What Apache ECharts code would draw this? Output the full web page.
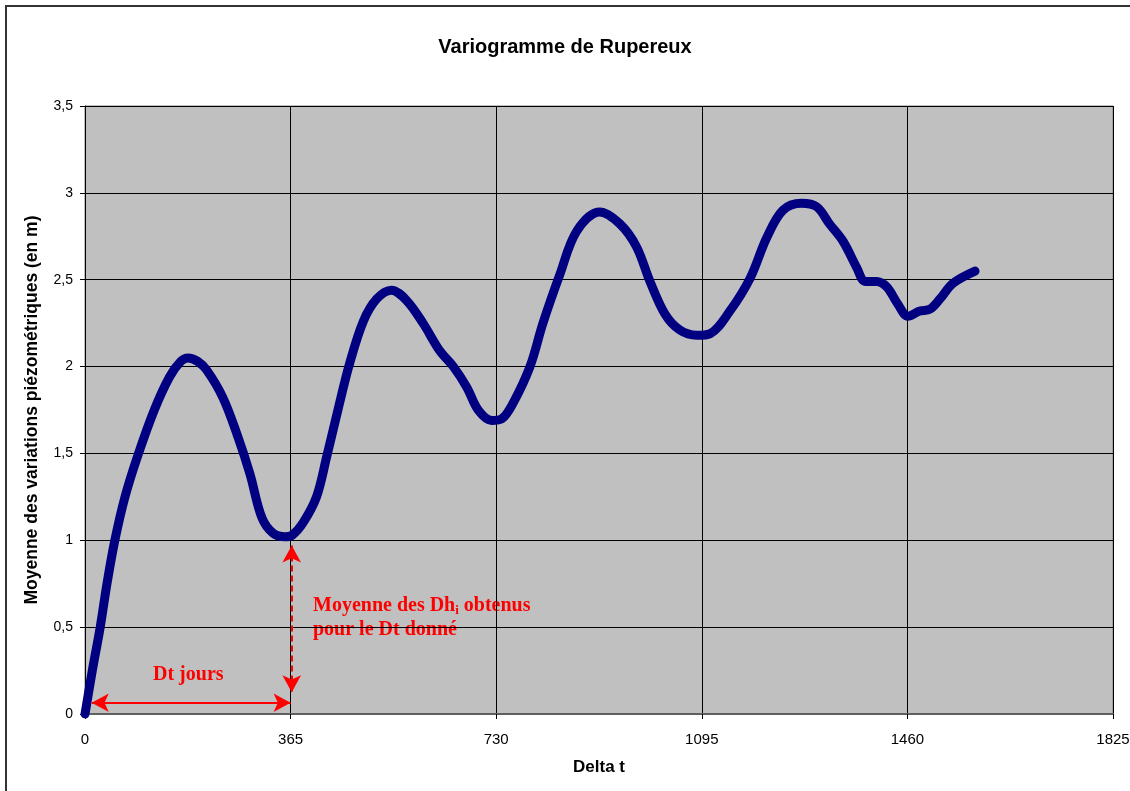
<!DOCTYPE html>
<html>
<head>
<meta charset="utf-8">
<script src="https://cdn.jsdelivr.net/npm/echarts@6/dist/echarts.min.js"></script>
<style>html,body{margin:0;padding:0;background:#fff}#c{width:1130px;height:791px}</style>
</head>
<body>
<div id="c"></div>
<script>
// Delta t (days)
const deltaT = [0,13,27,39,53,71,94,123,150,170,183,200,216,245,272,293,314,334,355,368,387,411,429,449,470,494,518,544,571,600,630,654,678,698,722,740,760,790,813,843,873,914,950,979,1003,1030,1056,1086,1110,1145,1181,1210,1239,1272,1299,1322,1346,1370,1385,1405,1423,1443,1461,1482,1500,1518,1541,1580];
// Moyenne des variations piézométriques (m)
const moyenne = [0,0.25,0.5,0.75,1.0,1.25,1.49,1.75,1.94,2.03,2.05,2.03,1.98,1.82,1.59,1.38,1.13,1.04,1.02,1.03,1.10,1.25,1.48,1.75,2.02,2.26,2.39,2.44,2.38,2.25,2.09,2.0,1.88,1.75,1.69,1.70,1.79,2.0,2.25,2.53,2.78,2.89,2.82,2.69,2.49,2.30,2.21,2.18,2.19,2.32,2.51,2.74,2.90,2.94,2.92,2.82,2.72,2.57,2.49,2.49,2.46,2.36,2.29,2.32,2.33,2.39,2.48,2.55];
const xTicks = [0,365,730,1095,1460,1825];
const yTicks = [0,0.5,1,1.5,2,2.5,3,3.5];
// annotation anchors (data units)
const dtArrow = {from:[12,0.065], to:[365,0.065]};
const dhArrow = {from:[367,0.97], to:[367,0.125]};

const chart = echarts.init(document.getElementById('c'), null, {renderer:'canvas'});
const red = '#FF0000';
const sans = "'Liberation Sans',Arial,sans-serif";
const serif = "'Liberation Serif','Times New Roman',serif";

chart.setOption({
  animation:false,
  backgroundColor:'#ffffff',
  title:{
    text:'Variogramme de Rupereux',
    left:'center', top:32,
    textStyle:{fontFamily:sans, fontSize:20, fontWeight:'bold', color:'#000'}
  },
  grid:{left:85, right:17, top:106, bottom:77, outerBoundsMode:'none', containLabel:false,
    show:true, backgroundColor:'#C0C0C0', borderColor:'#808080', borderWidth:1},
  xAxis:{
    type:'value', min:xTicks[0], max:xTicks[xTicks.length-1], interval:365,
    name:'Delta t', nameLocation:'middle', nameGap:45,
    nameTextStyle:{fontFamily:sans, fontSize:17, fontWeight:'bold', color:'#000'},
    axisLine:{show:true, onZero:false, lineStyle:{color:'#606060', width:2}},
    axisTick:{show:true, length:5, lineStyle:{color:'#000'}},
    axisLabel:{fontFamily:sans, fontSize:15, color:'#000', margin:18, formatter:v=>String(v)},
    splitLine:{show:true, lineStyle:{color:'#000', width:1}}
  },
  yAxis:{
    type:'value', min:yTicks[0], max:yTicks[yTicks.length-1], interval:0.5,
    name:'Moyenne des variations piézométriques (en m)', nameLocation:'middle', nameGap:44,
    nameTextStyle:{fontFamily:sans, fontSize:17.5, fontWeight:'bold', color:'#000'},
    axisLine:{show:true, lineStyle:{color:'#000', width:1}},
    axisTick:{show:true, length:5, lineStyle:{color:'#000'}},
    axisLabel:{fontFamily:sans, fontSize:14, color:'#000', margin:12,
      formatter:v=>String(v).replace('.',',')},
    splitLine:{show:true, lineStyle:{color:'#000', width:1}}
  },
  series:[{
    type:'line',
    data:deltaT.map((x,i)=>[x,moyenne[i]]),
    smooth:0.35,
    showSymbol:false,
    lineStyle:{color:'#000080', width:9, cap:'round', join:'round'},
    z:3,
    markLine:{
      silent:true, animation:false,
      symbol:['arrow','arrow'], symbolSize:[14,17],
      label:{show:false},
      data:[
        [{coord:dtArrow.from, lineStyle:{color:red, width:2, type:'solid'}},{coord:dtArrow.to}],
        [{coord:dhArrow.from, lineStyle:{color:red, width:2, type:[6,4]}},{coord:dhArrow.to}]
      ]
    }
  }],
  graphic:[
    {type:'line', shape:{x1:5,y1:6,x2:1130,y2:6}, style:{stroke:'#333', lineWidth:2}},
    {type:'line', shape:{x1:6,y1:6,x2:6,y2:791}, style:{stroke:'#333', lineWidth:2}},
    {type:'text', left:153, top:665, style:{text:'Dt jours', fill:red, font:"bold 20px "+serif}},
    {type:'text', left:313, top:595, style:{
      text:'{a|Moyenne des Dh}{s|i}{a| obtenus}\n{a|pour le Dt donné}',
      rich:{
        a:{fill:red, font:"bold 20px "+serif, lineHeight:24},
        s:{fill:red, font:"bold 13px "+serif, lineHeight:24, padding:[9,0,0,0]}
      }
    }}
  ]
});
</script>
</body>
</html>
